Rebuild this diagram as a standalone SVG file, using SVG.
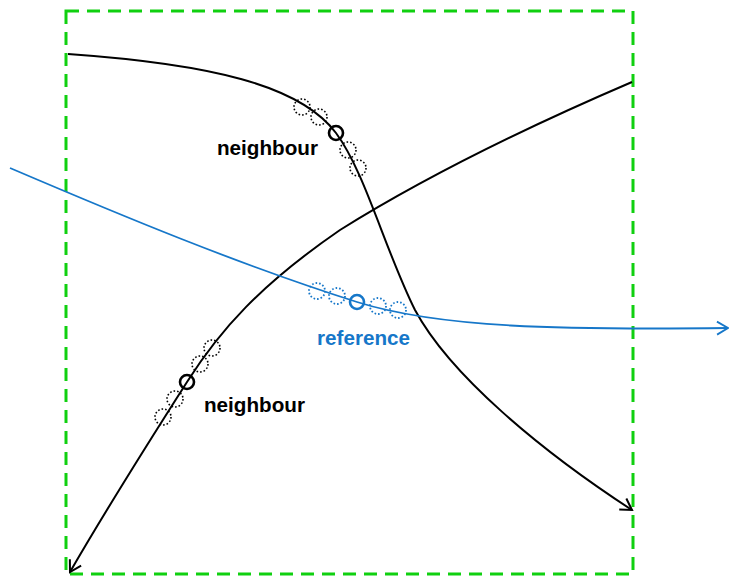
<svg xmlns="http://www.w3.org/2000/svg" width="729" height="578" viewBox="0 0 729 578">
  <style>
    .frame { fill: none; stroke: #10d010; stroke-width: 3; stroke-dasharray: 13 8; }
    .curve { fill: none; stroke: #000; stroke-width: 2; }
    .ref { fill: none; stroke: #1677c9; stroke-width: 1.8; }
    .pt { fill: none; stroke: #000; stroke-width: 2.6; }
    .pt-ref { fill: none; stroke: #1677c9; stroke-width: 2.6; }
    .cand { fill: none; stroke: #000; stroke-width: 1.6; stroke-dasharray: 1.6 2; }
    .cand-ref { fill: none; stroke: #1677c9; stroke-width: 1.8; stroke-dasharray: 1.6 2; }
    .lbl { font-family: "Liberation Sans", Arial, sans-serif; font-weight: bold; font-size: 20px; fill: #000; }
    .lbl-ref { fill: #1677c9; }
  </style>
  <defs>
    <marker id="arrow-black" markerWidth="16" markerHeight="16" refX="0" refY="0" viewBox="-12 -8 14 16" orient="auto" markerUnits="userSpaceOnUse">
      <path d="M-11,-6.5 L0,0 L-11,6.5" fill="none" stroke="#000" stroke-width="2"/>
    </marker>
    <marker id="arrow-blue" markerWidth="16" markerHeight="16" refX="0" refY="0" viewBox="-12 -8 14 16" orient="auto" markerUnits="userSpaceOnUse">
      <path d="M-11,-6.5 L0,0 L-11,6.5" fill="none" stroke="#1677c9" stroke-width="1.8"/>
    </marker>
  </defs>

  <rect id="window" class="frame" x="66" y="11" width="567" height="563"/>

  <g id="connectors">
    <path id="trajectory-a" class="curve" d="M68,54 C210,64 300,85 336,133 C365,172 385,250 415,310 C450,375 540,450 632,510" marker-end="url(#arrow-black)"/>
    <path id="trajectory-b" class="curve" d="M632,82 C520,130 420,180 340,230 C260,285 220,330 187,382 C150,440 100,520 70,572" marker-end="url(#arrow-black)"/>
    <path id="trajectory-ref" class="ref" d="M10,168 C120,215 240,265 357,302 C440,328 560,330 728,328" marker-end="url(#arrow-blue)"/>
  </g>

  <g id="neighbour-top">
    <circle class="cand" cx="302" cy="107" r="8"/>
    <circle class="cand" cx="319" cy="117" r="8"/>
    <circle class="cand" cx="348" cy="150" r="8"/>
    <circle class="cand" cx="358" cy="168" r="8"/>
    <circle class="pt" cx="336" cy="133" r="7"/>
    <text class="lbl" x="217" y="155" textLength="101" lengthAdjust="spacingAndGlyphs">neighbour</text>
  </g>

  <g id="reference">
    <circle class="cand-ref" cx="317" cy="291" r="8"/>
    <circle class="cand-ref" cx="337" cy="296" r="8"/>
    <circle class="cand-ref" cx="378" cy="306" r="8"/>
    <circle class="cand-ref" cx="398" cy="310" r="8"/>
    <circle class="pt-ref" cx="357" cy="302" r="7"/>
    <text class="lbl lbl-ref" x="317" y="345" textLength="93" lengthAdjust="spacingAndGlyphs">reference</text>
  </g>

  <g id="neighbour-bottom">
    <circle class="cand" cx="212" cy="348" r="8"/>
    <circle class="cand" cx="200" cy="364" r="8"/>
    <circle class="cand" cx="175" cy="399" r="8"/>
    <circle class="cand" cx="163" cy="417" r="8"/>
    <circle class="pt" cx="187" cy="382" r="7"/>
    <text class="lbl" x="204" y="412" textLength="101" lengthAdjust="spacingAndGlyphs">neighbour</text>
  </g>
</svg>
